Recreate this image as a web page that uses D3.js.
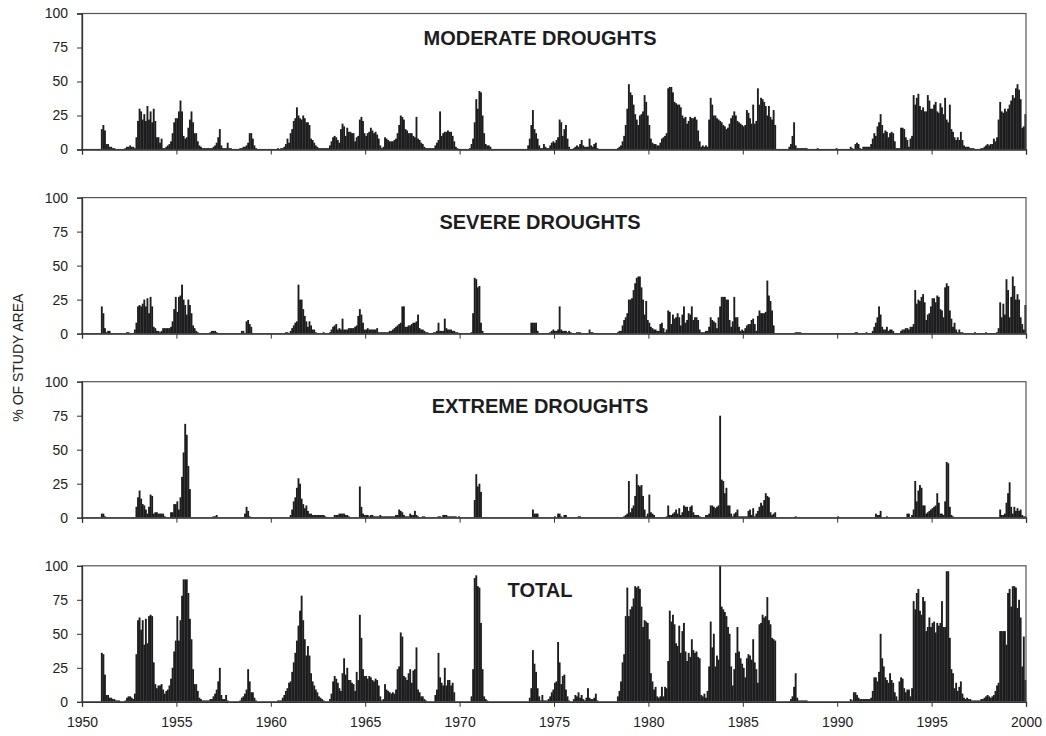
<!DOCTYPE html>
<html>
<head>
<meta charset="utf-8">
<script src="https://cdn.jsdelivr.net/npm/d3@7"></script>
<style>
  body { margin: 0; background: #fff; }
  svg { display: block; font-family: "Liberation Sans", Arial, sans-serif; }
</style>
</head>
<body>
<svg id="chart" width="1046" height="736"></svg>
<script>
// ---- DATA: monthly % of study area, one row of 12 months per year, 1950-1999 ----
const startYear = 1950;
const endYear = 2000;
const yTicks = [0, 25, 50, 75, 100];
const xTicks = [1950, 1955, 1960, 1965, 1970, 1975, 1980, 1985, 1990, 1995, 2000];
const panelTitles = ["MODERATE DROUGHTS", "SEVERE DROUGHTS", "EXTREME DROUGHTS", "TOTAL"];
const yAxisLabel = "% OF STUDY AREA";

const moderate = [
[0,0,0,0,0,0,0,0,0,0,0,0],
[15,18,14,4,4,2,2,1,1,0,0,0],
[0,0,0,1,2,2,3,2,2,1,9,21],
[30,28,22,26,21,32,22,28,20,30,21,9],
[9,5,8,1,1,2,3,4,6,12,20,23],
[23,28,36,28,10,8,9,16,22,28,20,12],
[12,6,3,2,1,1,1,1,1,1,1,2],
[3,5,9,15,3,1,1,1,5,1,1,0],
[0,0,0,0,1,1,2,2,3,5,12,12],
[8,3,1,0,0,0,0,0,0,0,0,0],
[0,0,0,0,1,0,1,1,2,4,8,5],
[12,15,21,23,31,25,23,22,25,23,20,20],
[18,8,7,5,3,2,1,1,1,1,1,1],
[1,3,6,9,10,9,7,5,15,19,17,10],
[16,13,13,12,12,6,9,10,22,24,21,12],
[10,12,13,16,14,12,13,11,8,3,1,2],
[9,8,7,6,6,6,7,8,12,18,25,24],
[22,15,14,12,12,12,10,9,24,8,7,5],
[4,2,1,1,1,1,1,1,3,5,7,28],
[10,12,13,13,14,13,13,10,6,2,1,0],
[0,0,0,0,0,0,1,4,8,20,37,30],
[43,42,25,12,4,3,3,2,0,0,0,0],
[0,0,0,0,0,0,0,0,0,0,0,0],
[0,0,0,0,0,0,0,3,8,18,29,15],
[12,8,3,1,1,4,2,1,1,3,5,6],
[5,7,9,22,20,10,15,18,8,2,0,0],
[1,2,3,2,4,7,3,2,2,2,8,3],
[2,4,5,1,0,0,0,0,0,0,0,0],
[0,0,0,0,1,2,3,6,10,18,30,48],
[42,40,33,26,22,18,25,26,28,40,35,25],
[18,8,5,4,4,3,3,5,8,9,10,12],
[45,46,46,42,35,34,33,33,31,25,23,24],
[19,21,24,23,23,24,22,14,6,2,3,2],
[3,2,22,38,33,25,25,23,22,21,20,18],
[17,15,16,19,23,25,28,25,21,20,19,18],
[17,18,29,27,23,19,33,19,21,45,33,38],
[37,35,32,25,32,24,22,29,18,0,0,0],
[0,0,0,0,0,2,4,10,20,3,1,1],
[1,1,1,1,1,0,0,0,0,0,0,1],
[0,0,0,0,0,0,0,0,0,0,0,1],
[0,0,0,0,0,0,0,0,2,1,0,4],
[5,4,1,0,2,2,2,2,2,4,8,12],
[10,17,20,26,18,12,14,13,9,12,13,12],
[6,1,1,1,16,16,15,9,7,2,8,10],
[40,33,38,41,32,29,31,28,28,40,36,30],
[30,33,35,28,27,34,31,26,38,22,20,33],
[15,13,9,7,9,7,13,7,3,2,2,2],
[1,1,1,0,0,0,0,1,1,2,3,4],
[3,4,4,8,6,9,22,35,28,27,30,28],
[30,33,36,40,38,45,48,44,37,16,17,26]
];

const severe = [
[0,0,0,0,0,0,0,0,0,0,0,0],
[20,15,4,1,2,2,0,0,0,0,0,0],
[0,0,0,0,1,1,0,0,0,3,8,20],
[21,20,22,25,20,26,15,27,20,5,4,2],
[2,1,2,4,4,4,4,4,5,9,18,27],
[16,27,28,36,25,21,14,25,21,15,6,4],
[2,1,0,0,0,0,0,0,0,1,2,2],
[2,1,0,0,0,0,0,0,0,0,0,0],
[0,0,0,0,0,2,2,0,9,10,7,5],
[0,0,0,0,0,0,0,0,0,0,0,0],
[0,0,0,0,0,0,0,0,0,1,1,0],
[2,4,6,8,9,36,25,25,18,13,9,5],
[9,6,3,3,1,0,0,0,0,1,0,0],
[0,1,3,5,6,7,3,4,3,11,3,3],
[3,4,4,4,4,5,6,13,18,14,8,3],
[3,4,3,3,3,3,3,4,1,1,1,1],
[1,1,1,2,2,3,4,5,6,7,8,20],
[20,5,5,6,6,7,8,8,9,14,4,3],
[3,2,1,1,0,0,0,1,1,2,8,2],
[2,2,11,4,3,3,3,2,2,1,1,0],
[0,0,0,0,0,0,0,1,15,41,40,34],
[35,8,2,0,0,0,0,0,0,0,0,0],
[0,0,0,0,0,0,0,0,0,0,0,0],
[0,0,0,0,0,0,0,0,0,8,8,8],
[8,2,0,0,0,0,0,0,0,1,2,3],
[2,2,3,20,3,2,2,2,1,2,1,0],
[0,0,1,1,1,0,0,0,0,0,3,1],
[1,0,0,0,0,0,0,0,0,0,0,0],
[0,0,0,0,1,2,2,6,10,12,15,25],
[25,26,32,37,41,42,42,34,25,14,24,10],
[8,5,4,3,3,2,2,7,8,4,1,3],
[17,16,7,14,11,12,15,12,6,14,20,8],
[10,15,14,20,10,12,12,10,3,1,1,1],
[2,2,5,12,10,9,8,4,12,20,27,27],
[27,25,25,10,5,9,27,12,12,5,2,3],
[2,4,6,7,7,10,11,7,2,13,17,15],
[15,15,16,39,28,24,17,6,0,0,0,0],
[0,0,0,0,0,0,0,0,0,1,1,1],
[1,0,0,0,0,0,0,0,0,0,0,0],
[0,0,0,0,0,0,0,0,0,0,0,0],
[0,0,0,0,0,0,0,0,0,0,0,1],
[1,0,0,0,0,0,1,0,0,0,2,5],
[8,12,20,14,5,3,3,5,2,3,3,2],
[0,0,0,0,2,3,3,4,4,3,5,5],
[7,32,22,25,24,27,29,23,10,14,15,20],
[26,26,23,28,27,18,17,12,34,37,35,17],
[11,5,8,3,1,3,1,1,0,0,0,0],
[0,0,0,1,0,0,0,0,0,0,1,0],
[0,0,0,0,0,1,4,23,12,22,14,40],
[32,12,27,42,35,25,29,25,12,7,3,21]
];

const extreme = [
[0,0,0,0,0,0,0,0,0,0,0,0],
[3,3,1,0,0,0,0,0,0,0,0,0],
[0,0,0,0,0,0,0,0,0,0,8,15],
[20,14,10,9,6,3,8,17,16,3,4,4],
[3,3,3,3,1,0,0,0,4,4,10,10],
[12,6,15,30,48,69,61,38,21,0,0,0],
[0,0,0,0,0,0,0,0,0,0,0,1],
[1,2,0,0,0,0,0,0,0,0,0,0],
[0,0,0,0,0,0,0,3,8,5,1,0],
[0,0,0,0,0,0,0,0,0,0,0,0],
[0,0,0,0,0,0,0,0,0,0,0,0],
[2,6,12,15,22,29,25,14,10,7,9,5],
[3,3,2,2,2,2,2,2,2,2,1,0],
[0,0,0,0,2,2,2,3,3,3,3,2],
[2,1,0,0,0,0,0,0,23,8,3,2],
[2,2,1,2,2,1,1,1,1,2,1,1],
[1,1,1,1,1,1,1,2,2,6,5,4],
[2,1,1,1,3,2,2,5,2,1,0,0],
[1,1,0,0,0,0,0,0,0,0,1,1],
[0,2,2,2,1,1,1,1,1,1,0,1],
[0,0,0,0,0,0,0,0,0,13,32,23],
[25,19,0,0,0,0,0,0,0,0,0,0],
[0,0,0,0,0,0,0,0,0,0,0,0],
[0,0,0,0,0,0,0,0,0,0,6,3],
[3,3,0,0,0,0,0,0,0,0,0,0],
[1,0,3,3,1,0,2,2,0,0,0,0],
[0,0,0,1,1,0,0,0,0,0,0,0],
[0,0,0,0,0,0,0,0,0,0,0,0],
[0,0,0,0,0,0,0,0,1,2,3,27],
[4,7,9,16,32,24,23,24,16,6,1,3],
[17,4,3,2,0,0,0,0,0,0,0,1],
[9,2,2,3,4,6,3,7,2,4,9,8],
[8,5,8,9,4,2,2,2,1,0,0,0],
[2,2,3,9,9,8,7,8,9,75,28,27],
[18,22,9,9,3,1,3,4,6,1,1,1],
[1,1,1,5,6,2,7,1,3,5,8,11],
[9,13,18,16,15,4,2,3,4,0,0,0],
[0,0,0,0,0,0,0,0,0,1,0,0],
[0,0,0,0,0,0,0,0,0,0,0,0],
[0,0,0,0,0,0,0,0,0,0,0,0],
[1,0,0,0,0,0,0,0,0,0,0,0],
[0,0,0,0,0,0,0,0,0,0,0,0],
[3,2,2,5,0,0,0,1,0,0,0,0],
[0,0,0,0,0,0,0,0,3,3,0,2],
[6,27,12,20,24,22,9,9,3,4,5,6],
[7,8,9,18,11,3,3,2,12,41,40,8],
[2,1,0,0,0,0,0,0,0,0,0,0],
[0,0,0,0,0,0,0,0,0,0,0,0],
[0,0,0,0,0,0,0,6,2,2,3,11],
[18,26,8,3,8,5,7,5,6,2,1,1]
];

const total = [
[0,0,0,0,0,0,0,0,0,0,0,0],
[36,35,20,5,5,3,3,2,2,1,1,1],
[0,0,0,1,3,4,4,3,2,6,35,60],
[62,53,60,42,61,43,63,64,63,29,13,10],
[12,12,13,9,6,8,9,12,17,25,37,45],
[63,45,60,78,90,90,90,80,61,46,24,13],
[13,8,3,2,1,1,1,1,1,2,2,4],
[6,9,15,25,5,2,2,5,1,0,0,0],
[0,0,0,0,1,3,4,6,9,24,15,7],
[7,3,1,0,0,0,0,0,0,0,0,0],
[0,0,0,0,1,1,1,3,5,8,10,14],
[15,22,29,36,45,56,67,78,60,46,34,41],
[34,21,15,12,9,7,4,3,2,1,0,0],
[0,2,6,15,19,17,14,10,8,21,32,20],
[25,16,16,14,13,8,22,16,64,47,24,19],
[19,17,19,18,16,15,17,16,12,4,1,2],
[13,9,8,7,6,7,6,9,24,26,51,48],
[19,18,16,21,24,14,23,24,40,9,7,4],
[4,2,1,0,0,0,0,0,5,9,36,18],
[14,12,25,12,16,16,12,14,7,0,0,0],
[0,0,0,0,0,0,0,4,24,91,93,85],
[84,58,24,4,2,1,0,0,0,0,0,0],
[0,0,0,0,0,0,0,0,0,0,0,0],
[0,0,0,0,0,0,0,0,3,10,38,28],
[22,10,4,1,5,1,1,1,2,4,7,9],
[14,15,44,29,13,19,20,9,4,1,0,0],
[2,5,4,7,3,5,2,1,3,10,3,2],
[2,3,6,1,0,0,0,0,0,0,0,0],
[0,0,0,0,4,8,15,29,35,63,84,63],
[68,70,76,85,84,85,83,70,55,60,59,58],
[46,21,15,9,11,4,3,4,11,4,11,10],
[30,67,59,64,57,43,41,56,36,52,58,37],
[30,36,33,46,38,36,37,33,32,5,4,6],
[3,8,26,59,40,50,26,34,31,100,70,68],
[66,63,55,50,26,12,24,36,55,37,32,28],
[25,18,32,35,34,31,46,29,24,14,57,58],
[64,62,63,77,60,57,47,46,45,0,0,0],
[0,0,0,0,0,0,2,4,11,21,3,1],
[1,1,1,1,1,0,0,0,0,0,0,0],
[0,0,0,0,0,0,0,0,0,0,0,0],
[0,0,0,0,0,0,0,0,2,1,7,7],
[5,3,2,2,2,2,2,2,2,3,8,18],
[18,15,22,50,32,26,18,16,14,21,16,14],
[7,4,1,15,18,17,10,7,9,9,4,10],
[74,68,80,83,67,64,77,74,52,55,62,55],
[58,59,51,58,56,58,74,55,55,96,96,47],
[24,21,10,14,8,11,15,6,3,2,3,2],
[2,1,1,1,1,1,1,2,2,3,4,5],
[4,3,4,5,8,12,14,52,52,52,52,42],
[80,83,70,85,85,84,69,75,62,26,48,16]
];

const seriesList = [moderate, severe, extreme, total];

// ---- LAYOUT ----
const plotLeft = 82, plotRight = 1026;
const panelTop0 = 13.5, panelStep = 184.1, panelH = 136;

const svg = d3.select("#chart");
const x = d3.scaleLinear().domain([startYear, endYear]).range([plotLeft, plotRight]);

function flatten(rows) {
  const out = [];
  rows.forEach((row, yi) => row.forEach((v, m) => out.push({t: startYear + yi + m / 12, v})));
  return out;
}

const barW = (x(startYear + 1/12) - x(startYear));

seriesList.forEach((rows, i) => {
  const top = panelTop0 + i * panelStep;
  const y = d3.scaleLinear().domain([0, 100]).range([top + panelH, top]);
  const g = svg.append("g");
  const data = flatten(rows);

  // bars
  g.append("g").selectAll("rect").data(data.filter(d => d.v > 0)).join("rect")
    .attr("x", d => x(d.t))
    .attr("width", barW + 0.3)
    .attr("y", d => y(d.v))
    .attr("height", d => y(0) - y(d.v))
    .attr("fill", "#1d1d1f");

  // frame (top/right)
  g.append("rect")
    .attr("x", plotLeft).attr("y", top)
    .attr("width", plotRight - plotLeft).attr("height", panelH)
    .attr("fill", "none").attr("stroke", "#555").attr("stroke-width", 1.2);

  // y axis
  const yAxis = d3.axisLeft(y).tickValues(yTicks).tickSize(5).tickPadding(9);
  const ya = g.append("g").attr("transform", `translate(${plotLeft},0)`).call(yAxis);
  ya.select(".domain").attr("stroke", "#333").attr("stroke-width", 1.3);
  ya.selectAll(".tick line").attr("stroke", "#333");
  ya.selectAll("text").attr("font-size", 14).attr("fill", "#222")
    .attr("font-family", "'Liberation Sans', Arial, sans-serif");

  // x axis
  const xAxis = d3.axisBottom(x).tickValues(xTicks).tickSize(5).tickPadding(10)
    .tickFormat(i === 3 ? d3.format("d") : () => "");
  const xa = g.append("g").attr("transform", `translate(0,${top + panelH})`).call(xAxis);
  xa.select(".domain").attr("stroke", "#333").attr("stroke-width", 1.3);
  xa.selectAll(".tick line").attr("stroke", "#333");
  xa.selectAll("text").attr("font-size", 14).attr("fill", "#222")
    .attr("font-family", "'Liberation Sans', Arial, sans-serif");

  // title
  g.append("text")
    .attr("x", 540).attr("y", top + 31)
    .attr("text-anchor", "middle")
    .attr("font-size", 20).attr("font-weight", "bold").attr("fill", "#1d1d1f")
    .text(panelTitles[i]);
});

// y label
svg.append("text")
  .attr("transform", `translate(23,${(panelTop0 + 3 * panelStep + panelH + panelTop0) / 2}) rotate(-90)`)
  .attr("text-anchor", "middle")
  .attr("font-size", 14).attr("fill", "#222")
  .text(yAxisLabel);
</script>
</body>
</html>
